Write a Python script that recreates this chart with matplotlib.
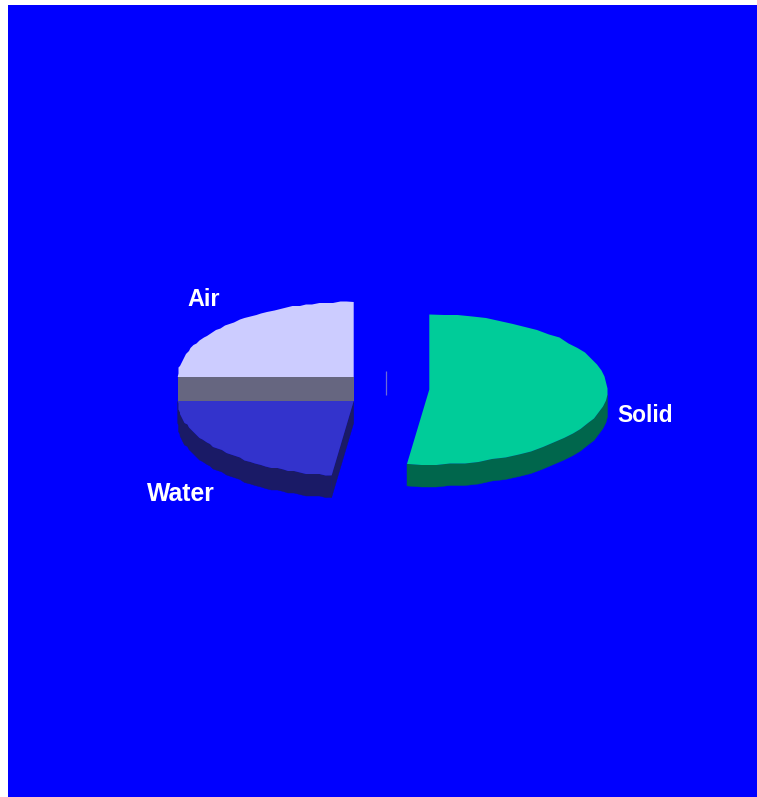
import numpy as np
import matplotlib
matplotlib.use("Agg")
import matplotlib.pyplot as plt
from matplotlib.patches import Polygon

W, H = 757, 797

# quote delle fette, in senso orario a partire dall'alto
labels = ["Solid", "Water", "Air"]
shares = [52, 23, 25]

top_colors = ["#00CC99", "#3333CC", "#CCCCFF"]
side_colors = ["#00664C", "#1A1A66", "#666680"]

# geometria del disco
CENTER = (385.5, 371.0)
OFFSETS = [(43.8, 18.5), (-31.8, 30.0), (-31.8, 6.0)]
RX = [178.0, 176.0, 176.0]
RY = 75.0
DEPTH = 22.0
WALL = 24.0
STEP = 1.5  # bordo leggermente seghettato come nell'originale
N_PTS = 41

LABEL_POS = [(645.5, 416), (180.5, 494.5), (203.5, 300)]
LABEL_SIZE = [16.4, 17.8, 16.8]


def arc(cx, cy, rx, a0, a1):
    # angoli in gradi, orario dall'alto, y verso il basso
    t = np.radians(np.linspace(a0, a1, N_PTS))
    pts = np.column_stack([cx + rx * np.sin(t), cy - RY * np.cos(t)])
    exact_ends = pts[[0, -1]]
    pts = np.round(pts / STEP) * STEP
    pts[[0, -1]] = exact_ends
    return pts


fig = plt.figure(figsize=(W / 100, H / 100), dpi=100, facecolor="white")
ax = fig.add_axes([8 / W, 0, (W - 8) / W, (H - 5) / H], facecolor="#0000FF")
ax.set_xlim(8, W)
ax.set_ylim(H, 5)
ax.set_xticks([])
ax.set_yticks([])
for s in ax.spines.values():
    s.set_visible(False)

# parete centrale, visibile tra le fette esplose
ax.plot([CENTER[0], CENTER[0]], [CENTER[1], CENTER[1] + WALL],
        color="#6A6AD8", lw=0.9, solid_capstyle="butt")

edges = np.cumsum([0] + shares) / sum(shares) * 360
for i, name in enumerate(labels):
    cx = CENTER[0] + OFFSETS[i][0]
    cy = CENTER[1] + OFFSETS[i][1]
    a0, a1 = edges[i], edges[i + 1]
    pts = arc(cx, cy, RX[i], a0, a1)
    down = np.array([0, DEPTH])

    if name == "Air":
        # parete frontale piatta della fetta superiore
        wall = np.array([[pts[0][0], cy], [cx, cy], [cx, cy + WALL], [pts[0][0], cy + WALL]])
        ax.add_patch(Polygon(wall, closed=True, fc=side_colors[i], ec="none"))
    else:
        # parete esterna: solo la parte rivolta verso il basso
        front = pts[np.abs(np.radians(np.linspace(a0, a1, N_PTS)) - np.pi) <= np.pi / 2 + 1e-9]
        side = np.vstack([front, (front + down)[::-1]])
        ax.add_patch(Polygon(side, closed=True, fc=side_colors[i], ec=side_colors[i], lw=0.3))
    if name == "Water":
        # taglio radiale a destra, visibile in basso
        cut = np.array([[cx, cy], pts[0], pts[0] + down, [cx, cy + DEPTH]])
        ax.add_patch(Polygon(cut, closed=True, fc=side_colors[i], ec=side_colors[i], lw=0.3))

    face = np.vstack([[cx, cy], pts])
    ax.add_patch(Polygon(face, closed=True, fc=top_colors[i], ec="none"))

for name, (x, y), size in zip(labels, LABEL_POS, LABEL_SIZE):
    ax.text(x, y, name, color="white", fontsize=size, fontweight="bold",
            family="Liberation Sans", ha="center", va="center")

fig.savefig("out.png", dpi=100)
